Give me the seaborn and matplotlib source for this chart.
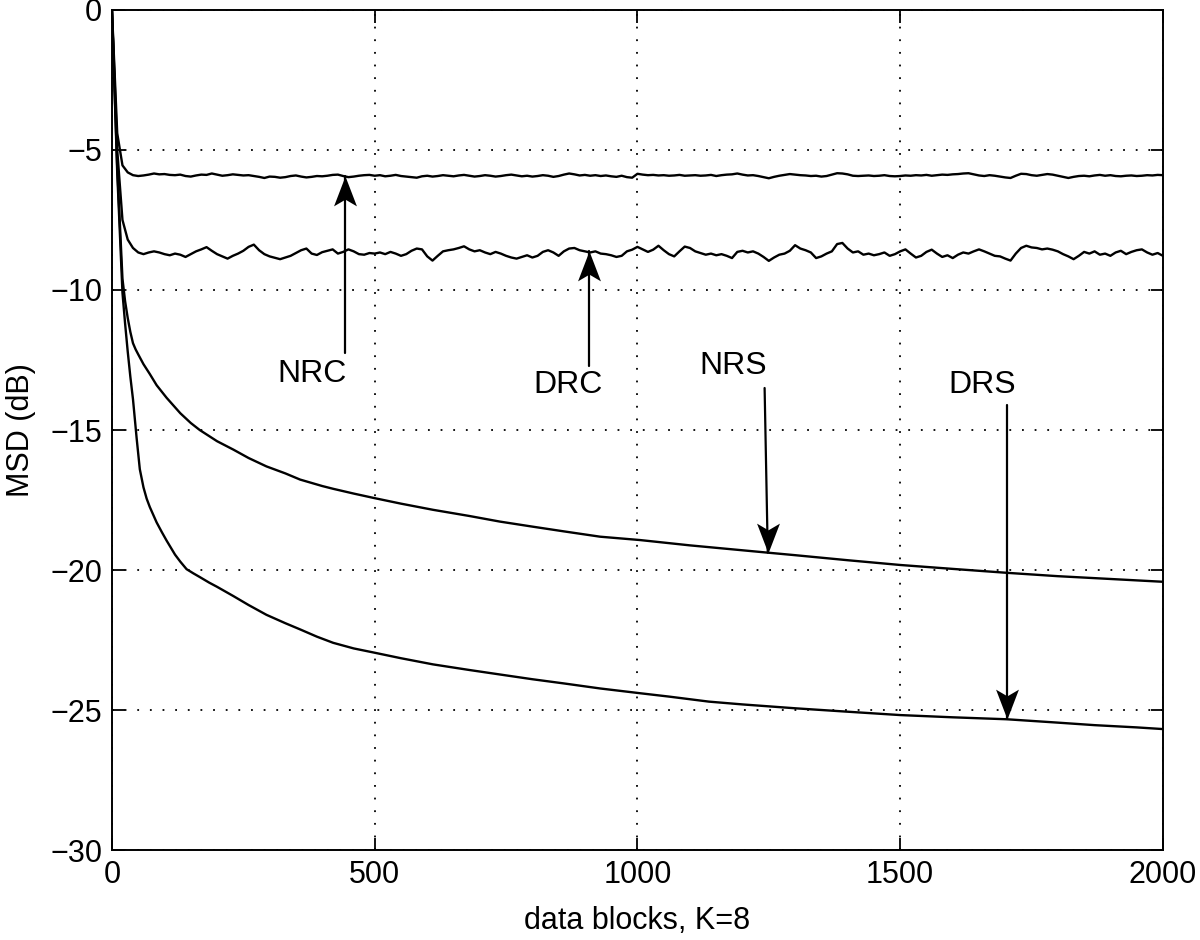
import numpy as np
import pandas as pd
import matplotlib
matplotlib.use("Agg")
import matplotlib.pyplot as plt
from matplotlib.path import Path
import seaborn as sns

# ---------------- data ----------------
noisy_k = list(range(0, 2001, 10))

nrc = [0.00, -4.40, -5.55, -5.80, -5.90, -5.93, -5.91, -5.88, -5.84, -5.87,
       -5.86, -5.89, -5.90, -5.88, -5.93, -5.95, -5.91, -5.88, -5.89, -5.84,
       -5.88, -5.92, -5.90, -5.87, -5.89, -5.91, -5.90, -5.93, -5.96, -6.00,
       -5.95, -5.96, -5.99, -5.97, -5.93, -5.91, -5.95, -5.98, -5.96, -5.93,
       -5.94, -5.92, -5.89, -5.88, -5.93, -5.97, -5.95, -5.92, -5.90, -5.89,
       -5.92, -5.90, -5.94, -5.92, -5.89, -5.93, -5.95, -5.97, -5.99, -5.94,
       -5.92, -5.95, -5.93, -5.90, -5.92, -5.94, -5.91, -5.89, -5.92, -5.95,
       -5.93, -5.90, -5.92, -5.95, -5.93, -5.90, -5.88, -5.91, -5.94, -5.92,
       -5.95, -5.93, -5.90, -5.92, -5.96, -5.93, -5.88, -5.84, -5.87, -5.91,
       -5.89, -5.92, -5.90, -5.93, -5.91, -5.94, -5.96, -5.92, -5.97, -5.99,
       -5.85, -5.88, -5.90, -5.89, -5.91, -5.90, -5.92, -5.91, -5.89, -5.92,
       -5.91, -5.90, -5.92, -5.91, -5.89, -5.93, -5.90, -5.88, -5.87, -5.84,
       -5.88, -5.91, -5.90, -5.93, -5.97, -6.01, -5.96, -5.92, -5.89, -5.86,
       -5.88, -5.90, -5.91, -5.93, -5.92, -5.95, -5.93, -5.88, -5.83, -5.84,
       -5.87, -5.92, -5.93, -5.92, -5.91, -5.93, -5.92, -5.90, -5.93, -5.94,
       -5.93, -5.91, -5.92, -5.90, -5.91, -5.89, -5.92, -5.90, -5.88, -5.89,
       -5.87, -5.86, -5.84, -5.83, -5.87, -5.91, -5.93, -5.90, -5.92, -5.95,
       -5.98, -6.00, -5.92, -5.85, -5.86, -5.90, -5.92, -5.89, -5.86, -5.88,
       -5.92, -5.96, -6.00, -5.96, -5.93, -5.92, -5.94, -5.91, -5.89, -5.92,
       -5.90, -5.93, -5.94, -5.92, -5.91, -5.93, -5.92, -5.90, -5.91, -5.89,
       -5.90]

drc = [0.00, -5.00, -7.50, -8.20, -8.50, -8.66, -8.72, -8.66, -8.62, -8.66,
       -8.72, -8.76, -8.70, -8.74, -8.82, -8.72, -8.62, -8.55, -8.47, -8.60,
       -8.72, -8.80, -8.88, -8.78, -8.70, -8.60, -8.46, -8.38, -8.58, -8.72,
       -8.80, -8.85, -8.90, -8.84, -8.78, -8.68, -8.58, -8.52, -8.70, -8.75,
       -8.65, -8.60, -8.55, -8.70, -8.64, -8.55, -8.62, -8.72, -8.74, -8.68,
       -8.70, -8.66, -8.72, -8.64, -8.70, -8.78, -8.72, -8.60, -8.52, -8.55,
       -8.80, -8.95, -8.78, -8.62, -8.58, -8.55, -8.50, -8.44, -8.55, -8.62,
       -8.58, -8.66, -8.72, -8.64, -8.70, -8.78, -8.84, -8.88, -8.82, -8.76,
       -8.84, -8.78, -8.64, -8.58, -8.66, -8.78, -8.62, -8.52, -8.50, -8.58,
       -8.62, -8.66, -8.62, -8.70, -8.72, -8.76, -8.82, -8.78, -8.62, -8.56,
       -8.46, -8.55, -8.64, -8.56, -8.42, -8.58, -8.72, -8.80, -8.62, -8.45,
       -8.50, -8.62, -8.68, -8.74, -8.70, -8.76, -8.72, -8.78, -8.86, -8.64,
       -8.60, -8.66, -8.62, -8.70, -8.82, -8.96, -8.84, -8.74, -8.70, -8.60,
       -8.40, -8.52, -8.58, -8.66, -8.86, -8.80, -8.70, -8.62, -8.36, -8.32,
       -8.52, -8.66, -8.62, -8.74, -8.70, -8.76, -8.72, -8.66, -8.78, -8.72,
       -8.62, -8.55, -8.70, -8.84, -8.78, -8.64, -8.56, -8.70, -8.82, -8.76,
       -8.86, -8.74, -8.66, -8.70, -8.62, -8.55, -8.62, -8.70, -8.78, -8.80,
       -8.88, -8.95, -8.70, -8.50, -8.42, -8.48, -8.50, -8.55, -8.52, -8.56,
       -8.62, -8.72, -8.80, -8.90, -8.78, -8.64, -8.70, -8.62, -8.74, -8.70,
       -8.78, -8.66, -8.60, -8.72, -8.64, -8.58, -8.55, -8.66, -8.74, -8.68,
       -8.78]

nrs_k = [0, 10, 20, 25, 30, 35, 40, 45, 50, 60, 72, 85, 104, 130, 150, 167,
         200, 231, 260, 294, 330, 358, 400, 421, 460, 499, 550, 611, 680, 738,
         800, 860, 929, 1005, 1100, 1248, 1300, 1400, 1500, 1600, 1703, 1800,
         1900, 2000]
nrs = [0, -5.6, -9.6, -10.4, -11.0, -11.5, -11.9, -12.12, -12.3, -12.65,
       -13.0, -13.4, -13.85, -14.4, -14.75, -15.0, -15.4, -15.7, -16.0, -16.3,
       -16.55, -16.77, -17.0, -17.1, -17.27, -17.43, -17.63, -17.85, -18.07,
       -18.27, -18.45, -18.62, -18.81, -18.93, -19.12, -19.38, -19.47, -19.65,
       -19.82, -19.96, -20.1, -20.22, -20.32, -20.42]

drs_k = [0, 10, 20, 25, 30, 35, 40, 47, 53, 60, 66, 72, 85, 95, 104, 112, 120,
         130, 142, 155, 167, 185, 200, 231, 260, 294, 330, 358, 390, 421, 460,
         499, 550, 611, 680, 738, 800, 860, 929, 1005, 1060, 1136, 1200, 1302,
         1400, 1500, 1600, 1703, 1800, 1870, 1950, 2000]
drs = [0, -5.8, -10.1, -11.2, -12.2, -13.1, -13.9, -15.3, -16.4, -17.05,
       -17.45, -17.75, -18.3, -18.65, -18.95, -19.2, -19.45, -19.7, -19.97,
       -20.12, -20.25, -20.45, -20.6, -20.93, -21.25, -21.6, -21.9, -22.12,
       -22.38, -22.6, -22.8, -22.95, -23.15, -23.37, -23.57, -23.73, -23.9,
       -24.05, -24.23, -24.4, -24.52, -24.7, -24.8, -24.94, -25.06, -25.18,
       -25.26, -25.33, -25.45, -25.54, -25.62, -25.68]

# annotation labels
labels = ["NRC", "DRC", "NRS", "DRS"]
label_xy = [(380, -13.0), (868, -13.39), (1182, -12.71), (1657, -13.39)]
arrow_from = [(443, -12.25), (908, -12.72), (1242, -13.5), (1703, -14.1)]
arrow_to = [(443, -5.93), (908, -8.6), (1248, -19.38), (1703, -25.33)]

xticks = [0, 500, 1000, 1500, 2000]
yticks = [0, -5, -10, -15, -20, -25, -30]

# ---------------- figure ----------------
sns.set_theme(style="ticks")
plt.rcParams["font.family"] = ["Liberation Sans", "DejaVu Sans"]
plt.rcParams["text.color"] = "black"
plt.rcParams["axes.labelcolor"] = "black"
plt.rcParams["xtick.color"] = "black"
plt.rcParams["ytick.color"] = "black"

fig = plt.figure(figsize=(12, 9.4), dpi=100)
ax = fig.add_axes([0.0933, 0.0957, 0.8758, 0.8937])

frames = []
for name, kk, vv in [("NRC", noisy_k, nrc), ("DRC", noisy_k, drc),
                     ("NRS", nrs_k, nrs), ("DRS", drs_k, drs)]:
    frames.append(pd.DataFrame({"k": kk, "msd": vv, "curve": name}))
df = pd.concat(frames, ignore_index=True)

for name in ["NRC", "DRC", "NRS", "DRS"]:
    sns.lineplot(data=df[df.curve == name], x="k", y="msd", ax=ax,
                 color="black", lw=1.7, estimator=None, sort=False,
                 legend=False)

ax.set_xlim(0, 2000)
ax.set_ylim(-30, 0)
ax.set_xticks(xticks)
ax.set_yticks(yticks)
ax.grid(True, color="black", linestyle=(0, (1, 6)), linewidth=1.3)
ax.set_axisbelow(True)
for sp in ax.spines.values():
    sp.set_visible(True)
    sp.set_linewidth(1.4)
    sp.set_color("black")
ax.tick_params(direction="in", top=True, right=True, length=9, width=1.3,
               labelsize=22, pad=7, colors="black", labelcolor="black")
ax.set_xlabel("data blocks, K=8", fontsize=22, labelpad=12, color="black")
ax.set_ylabel("MSD (dB)", fontsize=22, labelpad=10, color="black")

# arrow heads (notched, like MATLAB's annotation arrows)
def head_marker(up=True):
    s = -1 if up else 1
    verts = [(0, 0), (0.46, 1.2 * s), (0, 0.93 * s), (-0.46, 1.2 * s), (0, 0)]
    codes = [Path.MOVETO, Path.LINETO, Path.LINETO, Path.LINETO, Path.CLOSEPOLY]
    return Path(verts, codes)

for txt, (tx, ty), (x0, y0), (x1, y1) in zip(labels, label_xy, arrow_from, arrow_to):
    ax.text(tx, ty, txt, fontsize=23, ha="center", va="center", color="black")
    ax.plot([x0, x1], [y0, y1], color="black", lw=1.6)
    up = y1 > y0
    ax.plot([x1], [y1], marker=head_marker(up), markersize=43,
            color="black", markeredgewidth=0, linestyle="none")

fig.savefig("out.png", dpi=100)
